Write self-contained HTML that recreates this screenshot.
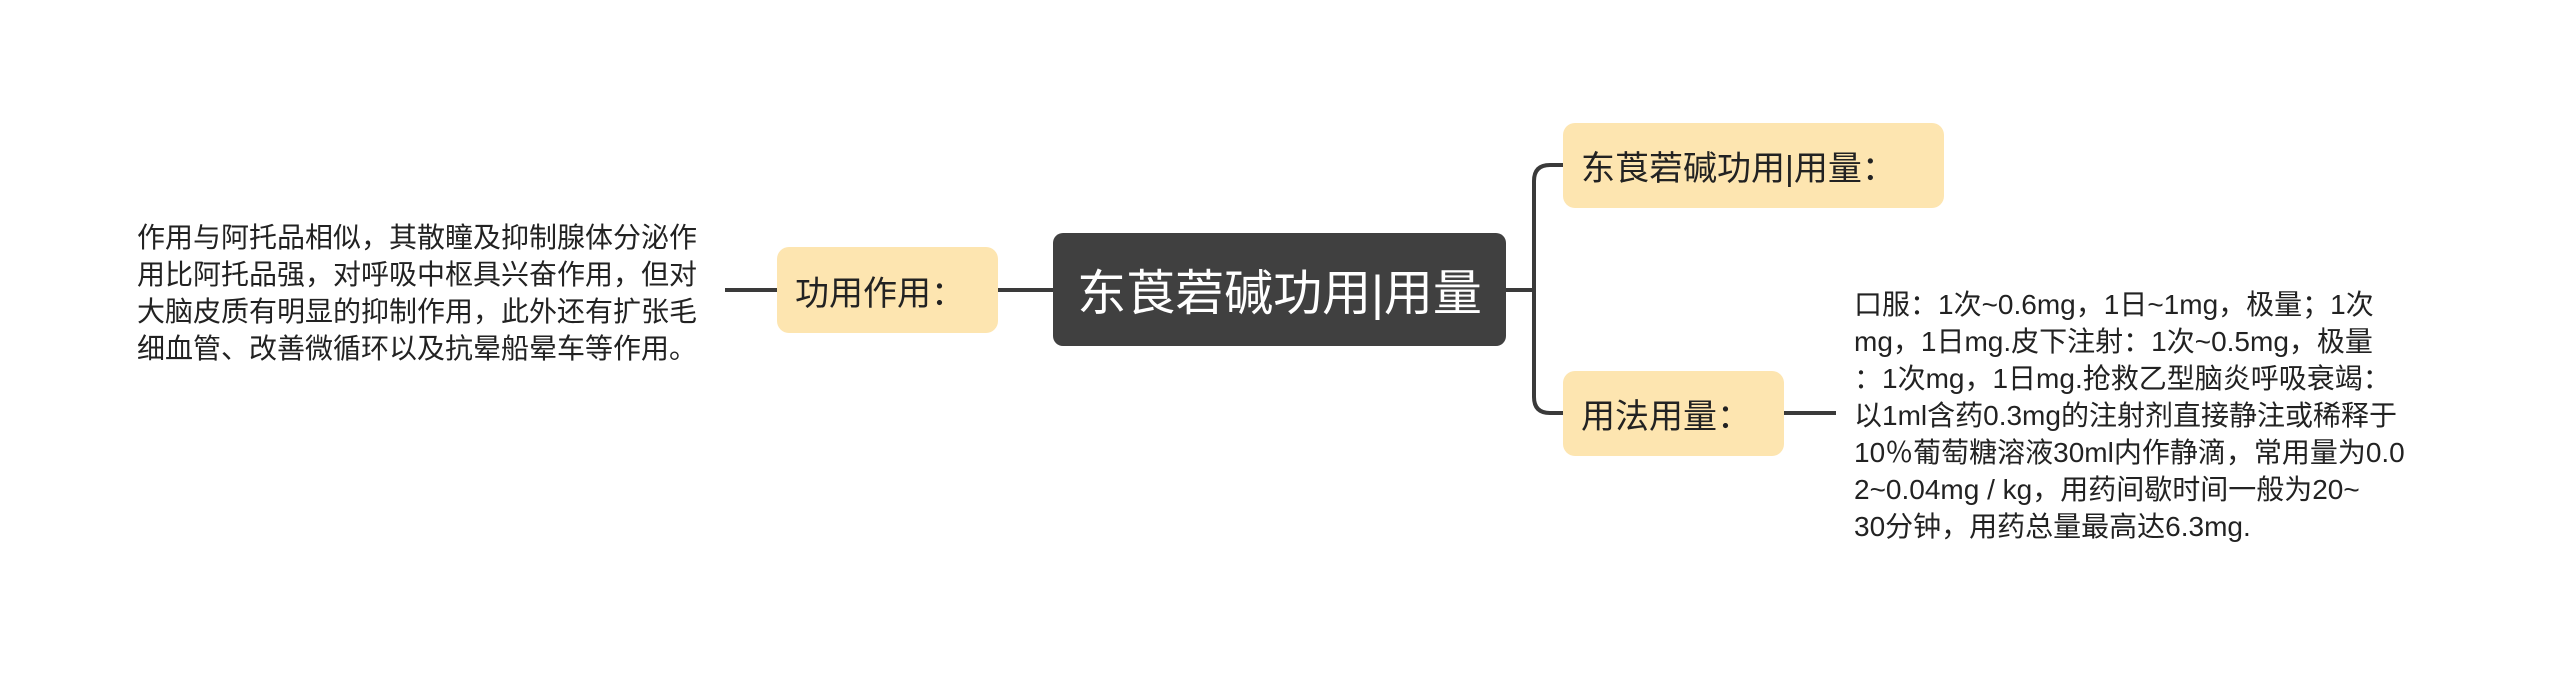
<!DOCTYPE html>
<html><head><meta charset="utf-8"><style>
body{margin:0;width:2560px;height:680px;background:#fff;position:relative;overflow:hidden;font-family:"Liberation Sans","Noto Sans CJK SC",sans-serif;color:#222}
.n{position:absolute;box-sizing:border-box;display:flex;align-items:center;}
.y{background:#fde5b0;border-radius:12px;font-size:34px;padding-left:18px;color:#222}
.t{position:absolute;font-size:28px;line-height:37px;color:#222;white-space:nowrap}
</style></head><body>
<svg width="2560" height="680" style="position:absolute;left:0;top:0">
<g stroke="#3a3a3a" stroke-width="4" fill="none">
<path d="M725 290 H777"/>
<path d="M998 290 H1053"/>
<path d="M1506 290 H1534"/>
<path d="M1563 165 H1550 Q1534 165 1534 181 V397 Q1534 413 1550 413 H1563"/>
<path d="M1784 413 H1836"/>
</g></svg>
<div class="n" style="left:1053px;top:233px;width:453px;height:113px;background:#404040;border-radius:10px;color:#fff;font-size:49px;justify-content:center">东莨菪碱功用|用量</div>
<div class="n y" style="left:777px;top:247px;width:221px;height:86px">功用作用：</div>
<div class="n y" style="left:1563px;top:123px;width:381px;height:85px">东莨菪碱功用|用量：</div>
<div class="n y" style="left:1563px;top:371px;width:221px;height:85px">用法用量：</div>
<div class="t" style="left:137px;top:219px">作用与阿托品相似，其散瞳及抑制腺体分泌作<br>用比阿托品强，对呼吸中枢具兴奋作用，但对<br>大脑皮质有明显的抑制作用，此外还有扩张毛<br>细血管、改善微循环以及抗晕船晕车等作用。</div>
<div class="t" style="left:1854px;top:286px">口服：1次~0.6mg，1日~1mg，极量；1次<br>mg，1日mg.皮下注射：1次~0.5mg，极量<br>：1次mg，1日mg.抢救乙型脑炎呼吸衰竭：<br>以1ml含药0.3mg的注射剂直接静注或稀释于<br>10％葡萄糖溶液30ml内作静滴，常用量为0.0<br>2~0.04mg / kg，用药间歇时间一般为20~<br>30分钟，用药总量最高达6.3mg.</div>
</body></html>
